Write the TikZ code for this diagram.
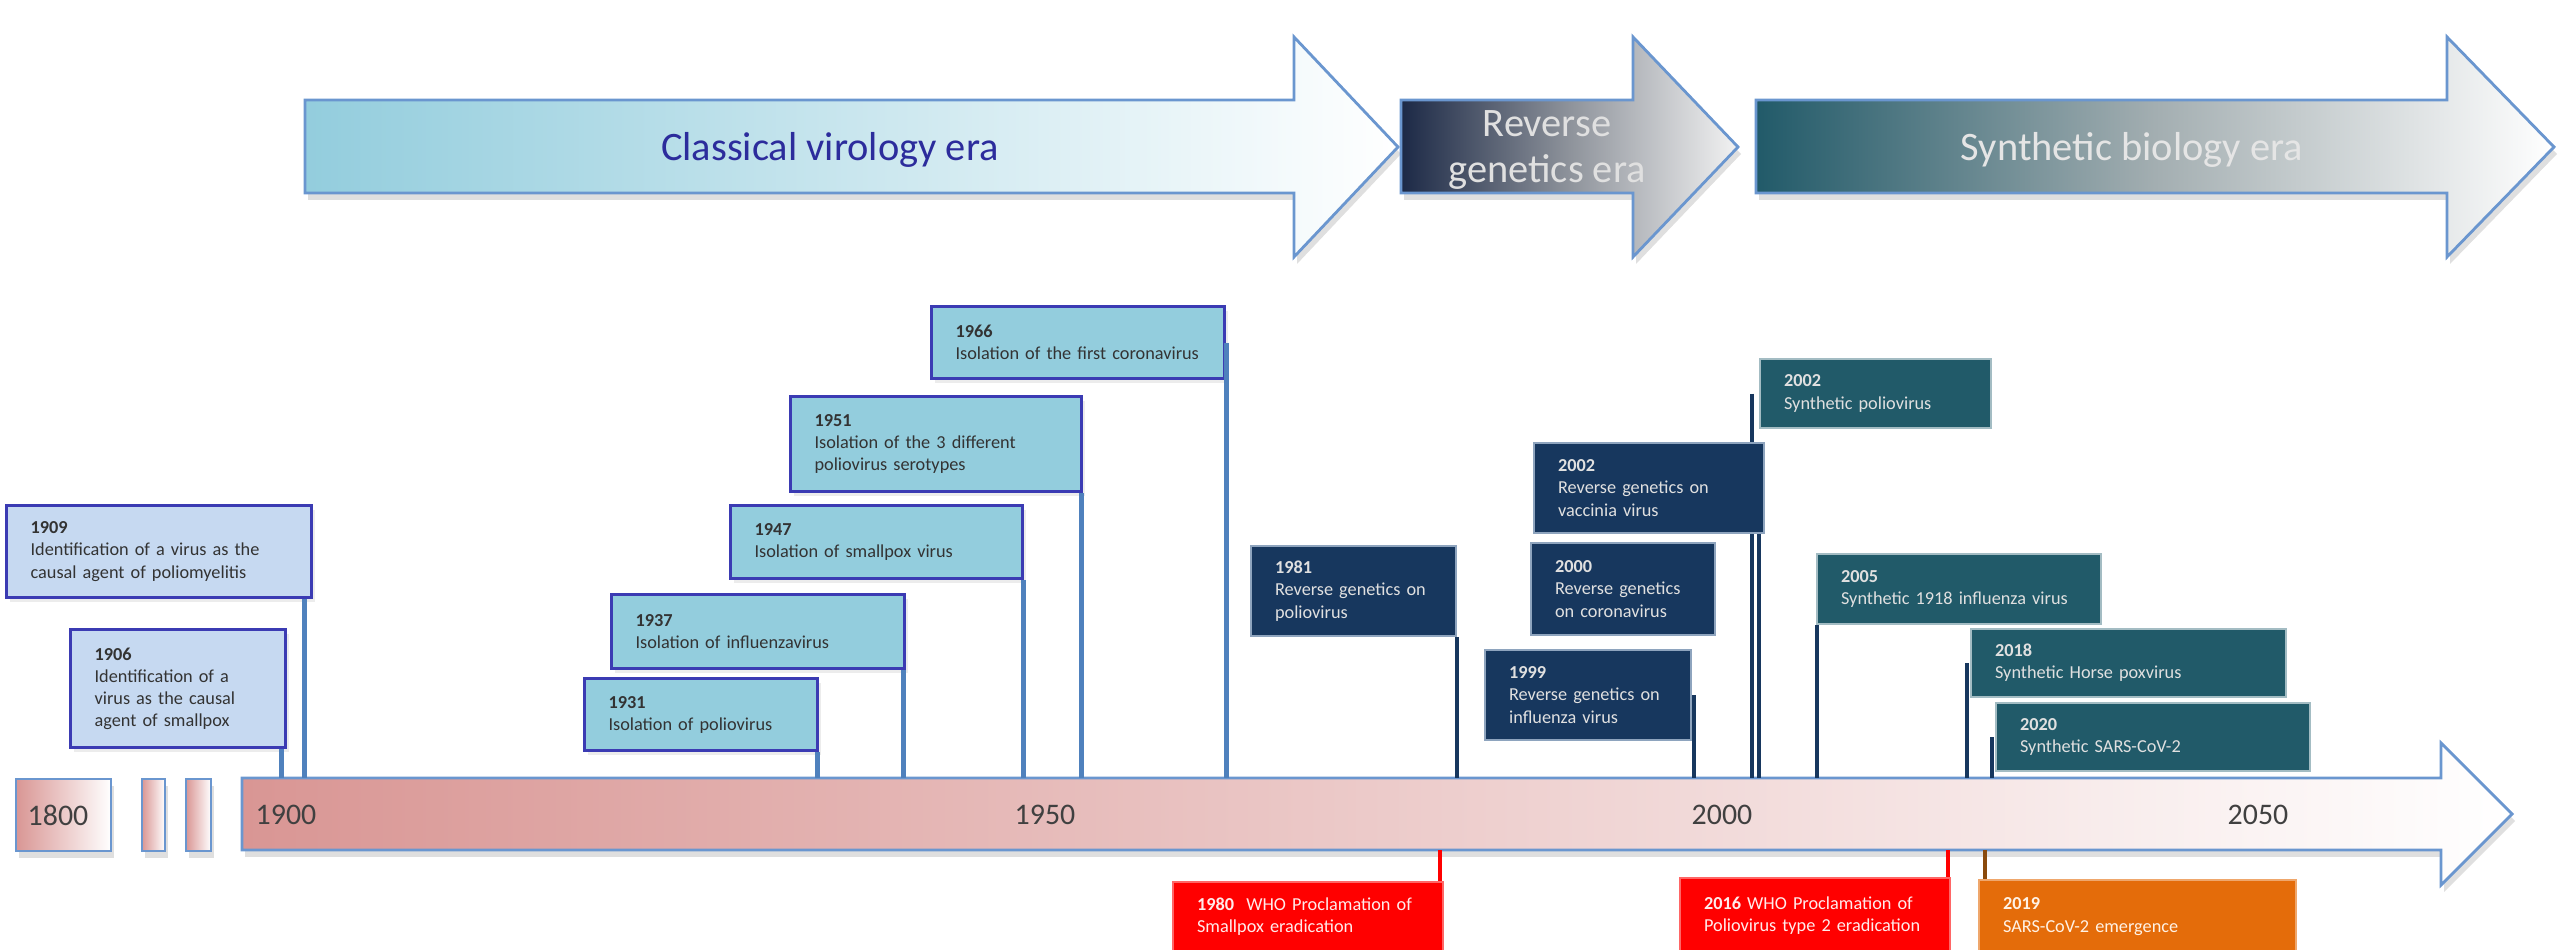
\documentclass[tikz,border=0pt]{standalone}
\usepackage{fontspec}
\setmainfont{Carlito}
\usepackage{tikz}
\usetikzlibrary{shadows}
\definecolor{clsblue}{HTML}{93CDDD}
\definecolor{clslight}{HTML}{C6D9F1}
\definecolor{clsedge}{HTML}{3B3BB3}
\definecolor{clstext}{HTML}{2C2C9C}
\definecolor{stemblue}{HTML}{4F81BD}
\definecolor{edgeblue}{HTML}{6A96CF}
\definecolor{revnavy}{HTML}{17375E}
\definecolor{revdark}{HTML}{1C2946}
\definecolor{revmid}{HTML}{8E939B}
\definecolor{revedge}{HTML}{8EA4BE}
\definecolor{synteal}{HTML}{215A69}
\definecolor{synmid}{HTML}{A3AEB1}
\definecolor{synedge}{HTML}{A3BCC3}
\definecolor{salmon}{HTML}{D99694}
\definecolor{emgorange}{HTML}{E46C0A}
\definecolor{emgbrown}{HTML}{8A4A0C}

\begin{document}
\begin{tikzpicture}[x=0.1mm,y=-0.1mm,
  evt/.style={align=left,anchor=north west,inner xsep=2.4mm,inner ysep=0.8mm,font=\fontsize{5.2}{6.3}\selectfont},
  cbox/.style={evt,draw=clsedge,line width=0.9pt,fill=clsblue,text=black!80,drop shadow={opacity=0.15,shadow xshift=0.3mm,shadow yshift=-0.4mm}},
  rbox/.style={evt,draw=revedge,line width=0.6pt,fill=revnavy,text=white!88!black},
  sbox/.style={evt,draw=synedge,line width=0.6pt,fill=synteal,text=white!88!black},
  wbox/.style={evt,draw=red!60!white,line width=0.6pt,fill=red,text=red!8},
  ebox/.style={evt,draw=emgorange!60!white,line width=0.6pt,fill=emgorange,text=orange!10},
  cline/.style={stemblue,line width=1.4pt},
  rline/.style={revnavy,line width=1.2pt},
  wline/.style={red,line width=1.2pt},
  eline/.style={emgbrown,line width=1.2pt},
  band/.style={draw=edgeblue,line width=0.8pt,drop shadow={opacity=0.25,shadow xshift=0.3mm,shadow yshift=-0.7mm}},
  era/.style={font=\fontsize{11.5}{13}\selectfont,align=center},
  yr/.style={font=\fontsize{8.5}{10}\selectfont,text=black!75}]
\useasboundingbox (0,0) rectangle (2560,950);

% era arrows
\path[band,left color=clsblue,right color=white] (305,100) -- (1294,100) -- (1294,37) -- (1398,147) -- (1294,257) -- (1294,193) -- (305,193) -- cycle;
\path[band,left color=revdark,right color=white!95!black,middle color=revmid] (1401,100) -- (1633,100) -- (1633,37) -- (1738,147) -- (1633,257) -- (1633,193) -- (1401,193) -- cycle;
\path[band,left color=synteal,right color=white,middle color=synmid] (1756,100) -- (2447,100) -- (2447,37) -- (2554,147) -- (2447,257) -- (2447,193) -- (1756,193) -- cycle;
\node[era,text=clstext] (tcls) at (830,150) {Classical virology era};
\node[era,text=white!88!black] (trev) at (1547,150) {Reverse\\genetics era};
\node[era,text=white!90!black] (tsyn) at (2132,150) {Synthetic biology era};

% time axis
\path[band,left color=salmon,right color=white] (16,779) rectangle (111,851);
\path[band,left color=salmon,right color=white] (142,779) rectangle (165,851);
\path[band,left color=salmon,right color=white] (186,779) rectangle (211,851);
\path[band,left color=salmon,right color=white] (242,778) -- (2441,778) -- (2441,743) -- (2512,814) -- (2441,885) -- (2441,850) -- (242,850) -- cycle;
\coordinate (axtop) at (0,778);
\coordinate (axbot) at (0,850);
\node[yr] (l1800) at (58,815) {1800};
\node[yr] (l1900) at (286,815) {1900};
\node[yr] (l1950) at (1045,815) {1950};
\node[yr] (l2000) at (1722,815) {2000};
\node[yr] (l2050) at (2258,815) {2050};

% classical virology
\node[cbox,fill=clslight,text width=25.7mm,minimum height=9.2mm] (b1909) at (5,504) {\textbf{1909}\\Identification of a virus as the\\causal agent of poliomyelitis};
\node[cbox,fill=clslight,text width=16.7mm,minimum height=11.8mm] (b1906) at (69,628) {\textbf{1906}\\Identification of a\\virus as the causal\\agent of smallpox};
\node[cbox,text width=18.5mm,minimum height=7.2mm] (b1931) at (583,677) {\textbf{1931}\\Isolation of poliovirus};
\node[cbox,text width=24.5mm,minimum height=7.4mm] (b1937) at (610,593) {\textbf{1937}\\Isolation of influenzavirus};
\node[cbox,text width=24.4mm,minimum height=7.3mm] (b1947) at (729,504) {\textbf{1947}\\Isolation of smallpox virus};
\node[cbox,text width=24.3mm,minimum height=9.5mm] (b1951) at (789,395) {\textbf{1951}\\Isolation of the 3 different\\poliovirus serotypes};
\node[cbox,text width=24.5mm,minimum height=7.2mm] (b1966) at (930,305) {\textbf{1966}\\Isolation of the first coronavirus};
\draw[cline] (b1909.south east) ++(-9,0) coordinate (p) -- (p |- axtop);
\draw[cline] (b1906.south east) ++(-6,0) coordinate (p) -- (p |- axtop);
\draw[cline] (b1931.south east) ++(-2,0) coordinate (p) -- (p |- axtop);
\draw[cline] (b1937.south east) ++(-3,0) coordinate (p) -- (p |- axtop);
\draw[cline] (b1947.south east) ++(-1,0) coordinate (p) -- (p |- axtop);
\draw[cline] (b1951.south east) ++(-2,0) coordinate (p) -- (p |- axtop);
\draw[cline] (b1966.east) -- (b1966.east |- axtop);

% reverse genetics and synthetic biology
\node[sbox,text width=18.3mm,minimum height=6.9mm] (s2002) at (1759,358) {\textbf{2002}\\Synthetic poliovirus};
\draw[rline] (s2002.west) ++(-7,0) coordinate (p) -- (p |- axtop);
\node[rbox,text width=15.7mm,minimum height=9mm] (r1981) at (1250,545) {\textbf{1981}\\Reverse genetics on\\poliovirus};
\node[rbox,text width=15.8mm,minimum height=9mm] (r1999) at (1484,649) {\textbf{1999}\\Reverse genetics on\\influenza virus};
\node[rbox,text width=13.6mm,minimum height=9.2mm] (r2000) at (1530,542) {\textbf{2000}\\Reverse genetics\\on coronavirus};
\node[rbox,text width=18.2mm,minimum height=9mm] (r2002) at (1533,442) {\textbf{2002}\\Reverse genetics on\\vaccinia virus};
\draw[rline] (r1981.south east) -- (r1981.south east |- axtop);
\draw[rline] (r1999.east) ++(2,0) coordinate (p) -- (p |- axtop);
\draw[rline] (r2002.south east) ++(-6,0) coordinate (p) -- (p |- axtop);
\node[sbox,text width=23.6mm,minimum height=7mm] (s2005) at (1816,553) {\textbf{2005}\\Synthetic 1918 influenza virus};
\node[sbox,text width=26.7mm,minimum height=6.8mm] (s2018) at (1970,628) {\textbf{2018}\\Synthetic Horse poxvirus};
\node[sbox,text width=26.6mm,minimum height=6.8mm] (s2020) at (1995,702) {\textbf{2020}\\Synthetic SARS-CoV-2};
\draw[rline] (s2005.south west) ++(1,0) coordinate (p) -- (p |- axtop);
\draw[rline] (s2018.west) ++(-3,0) coordinate (p) -- (p |- axtop);
\draw[rline] (s2020.west) ++(-3,0) coordinate (p) -- (p |- axtop);

% below the axis
\node[wbox,text width=22.2mm,minimum height=7mm] (w1980) at (1172,881) {\textbf{1980}\ \ WHO Proclamation of\\Smallpox eradication};
\node[wbox,text width=22.2mm,minimum height=7.5mm] (w2016) at (1679,877) {\textbf{2016} WHO Proclamation of\\Poliovirus type 2 eradication};
\node[ebox,text width=26.9mm,minimum height=7.3mm] (e2019) at (1978,879) {\textbf{2019}\\SARS-CoV-2 emergence};
\draw[wline] (w1980.north east) ++(-4,0) coordinate (p) -- (p |- axbot);
\draw[wline] (w2016.north east) ++(-3,0) coordinate (p) -- (p |- axbot);
\draw[eline] (e2019.north west) ++(7,0) coordinate (p) -- (p |- axbot);
\end{tikzpicture}
\end{document}
